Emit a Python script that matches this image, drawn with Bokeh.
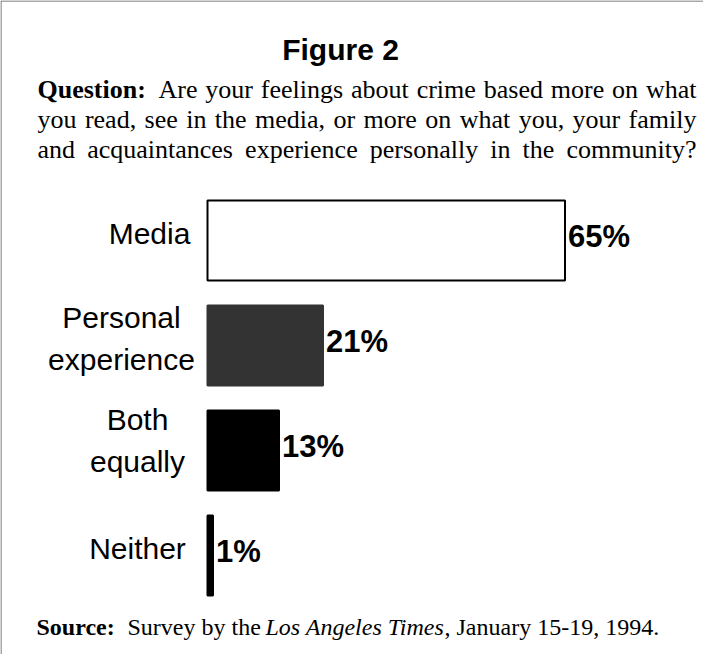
from bokeh.plotting import figure
from bokeh.models import Range1d, ColumnDataSource
from bokeh.core.properties import value
from bokeh.embed import file_html
from bokeh.resources import INLINE

# ---- data ----
categories = ["Media", "Personal\nexperience", "Both\nequally", "Neither"]
percents = [65, 21, 13, 1]
value_labels = ["65%", "21%", "13%", "1%"]

title_text = "Figure 2"
question_lead = "Question:"
question_lines = [
    "Are your feelings about crime based more on what",
    "you read, see in the media, or more on what you, your family",
    "and acquaintances experience personally in the community?",
]
source_lead = "Source:"
source_pre = "Survey by the"
source_italic = "Los Angeles Times"
source_post = ", January 15-19, 1994."

# ---- styles / layout ----
bar_fills = ["#ffffff", "#333333", "#000000", "#000000"]
bar_lines = ["#000000", "#333333", "#000000", "#000000"]
label_center_px = [157, 129, 145, 145]
label_dy_px = [-7, -7, -10, -7]

W, H = 703, 654
PX_PER_PCT = 5.5
ROW_PX = 105
ZERO_X = 215
FIRST_ROW_Y = 248


def xd(ix):
    return (ix - ZERO_X) / PX_PER_PCT


def yd(iy):
    return (iy - FIRST_ROW_Y) / ROW_PX


# Times-Roman advance widths (per 1000 em) for justification
TIMES = dict(zip("abcdefghijklmnopqrstuvwxyz", [444, 500, 444, 500, 444, 333, 500, 500, 278, 278, 500, 278, 778,
                                              500, 500, 500, 500, 333, 389, 278, 500, 500, 722, 500, 500, 444]))
TIMES.update({" ": 250, ",": 250, ".": 250, "?": 444, "A": 722, ":": 278})


def word_w(w, size):
    return sum(TIMES.get(c, 500) for c in w) / 1000.0 * size


def justify(line, left, right, size):
    words = line.split(" ")
    widths = [word_w(w, size) for w in words]
    gap = (right - left - sum(widths)) / (len(words) - 1)
    xs, cur = [], left
    for w in widths:
        xs.append(cur)
        cur += w + gap
    return words, xs


p = figure(width=W, height=H,
           x_range=Range1d(xd(8), xd(8 + W)),
           y_range=Range1d(yd(8 + H), yd(8)),
           output_backend="svg", toolbar_location=None,
           min_border=0, outline_line_color=None)
p.axis.visible = False
p.grid.visible = False
p.background_fill_color = "white"
p.border_fill_color = "white"

rows = list(range(len(categories)))
src = ColumnDataSource(dict(row=rows, cat=categories, pct=percents, lab=value_labels,
                            fill=bar_fills, line=bar_lines,
                            lx=[xd(v) for v in label_center_px], ldy=label_dy_px))

p.hbar(y="row", left=0, right="pct", height=80 / ROW_PX, source=src,
       fill_color="fill", line_color="line", line_width=2)

SANS = "Liberation Sans"
SERIF = "Liberation Serif"

p.text(x="lx", y="row", text="cat", source=src,
       text_font=value(SANS), text_font_size="30px",
       text_align="center", text_baseline="middle",
       text_line_height=1.25, text_color="black", y_offset="ldy")

p.text(x="pct", y="row", text="lab", source=src, x_offset=3,
       text_font=value(SANS), text_font_size="31px", text_font_style="bold",
       text_align="left", text_baseline="middle", text_color="black", y_offset=-4)

# title
p.text(x=[xd(348)], y=[yd(57)], text=[title_text],
       text_font=value(SANS), text_font_size="30px", text_font_style="bold",
       text_align="center", text_baseline="middle", text_color="black")

# question
QSIZE = 26
q_y = [97, 127, 157]
p.text(x=[xd(45)], y=[yd(q_y[0])], text=[question_lead],
       text_font=value(SERIF), text_font_size=f"{QSIZE}px", text_font_style="bold",
       text_align="left", text_baseline="middle", text_color="black")
starts = [166, 45, 45]
for line, lx0, ly in zip(question_lines, starts, q_y):
    words, xs = justify(line, lx0, 704, QSIZE)
    p.text(x=[xd(v) for v in xs], y=[yd(ly)] * len(words), text=words,
           text_font=value(SERIF), text_font_size=f"{QSIZE}px",
           text_align="left", text_baseline="middle", text_color="black")

# source
SY = 634
p.text(x=[xd(44)], y=[yd(SY)], text=[source_lead],
       text_font=value(SERIF), text_font_size="24px", text_font_style="bold",
       text_align="left", text_baseline="middle", text_color="black")
p.text(x=[xd(135)], y=[yd(SY)], text=[source_pre],
       text_font=value(SERIF), text_font_size="24px",
       text_align="left", text_baseline="middle", text_color="black")
p.text(x=[xd(273)], y=[yd(SY)], text=[source_italic],
       text_font=value(SERIF), text_font_size="24px", text_font_style="italic",
       text_align="left", text_baseline="middle", text_color="black")
p.text(x=[xd(452)], y=[yd(SY)], text=[source_post],
       text_font=value(SERIF), text_font_size="24px",
       text_align="left", text_baseline="middle", text_color="black")

# frame lines (top and left)
p.segment(x0=[xd(8.5), xd(8.5)], y0=[yd(8.5), yd(8.5)],
          x1=[xd(719), xd(8.5)], y1=[yd(8.5), yd(670)],
          line_color="#555555", line_width=1)

open("out.html", "w").write(file_html(p, INLINE))
